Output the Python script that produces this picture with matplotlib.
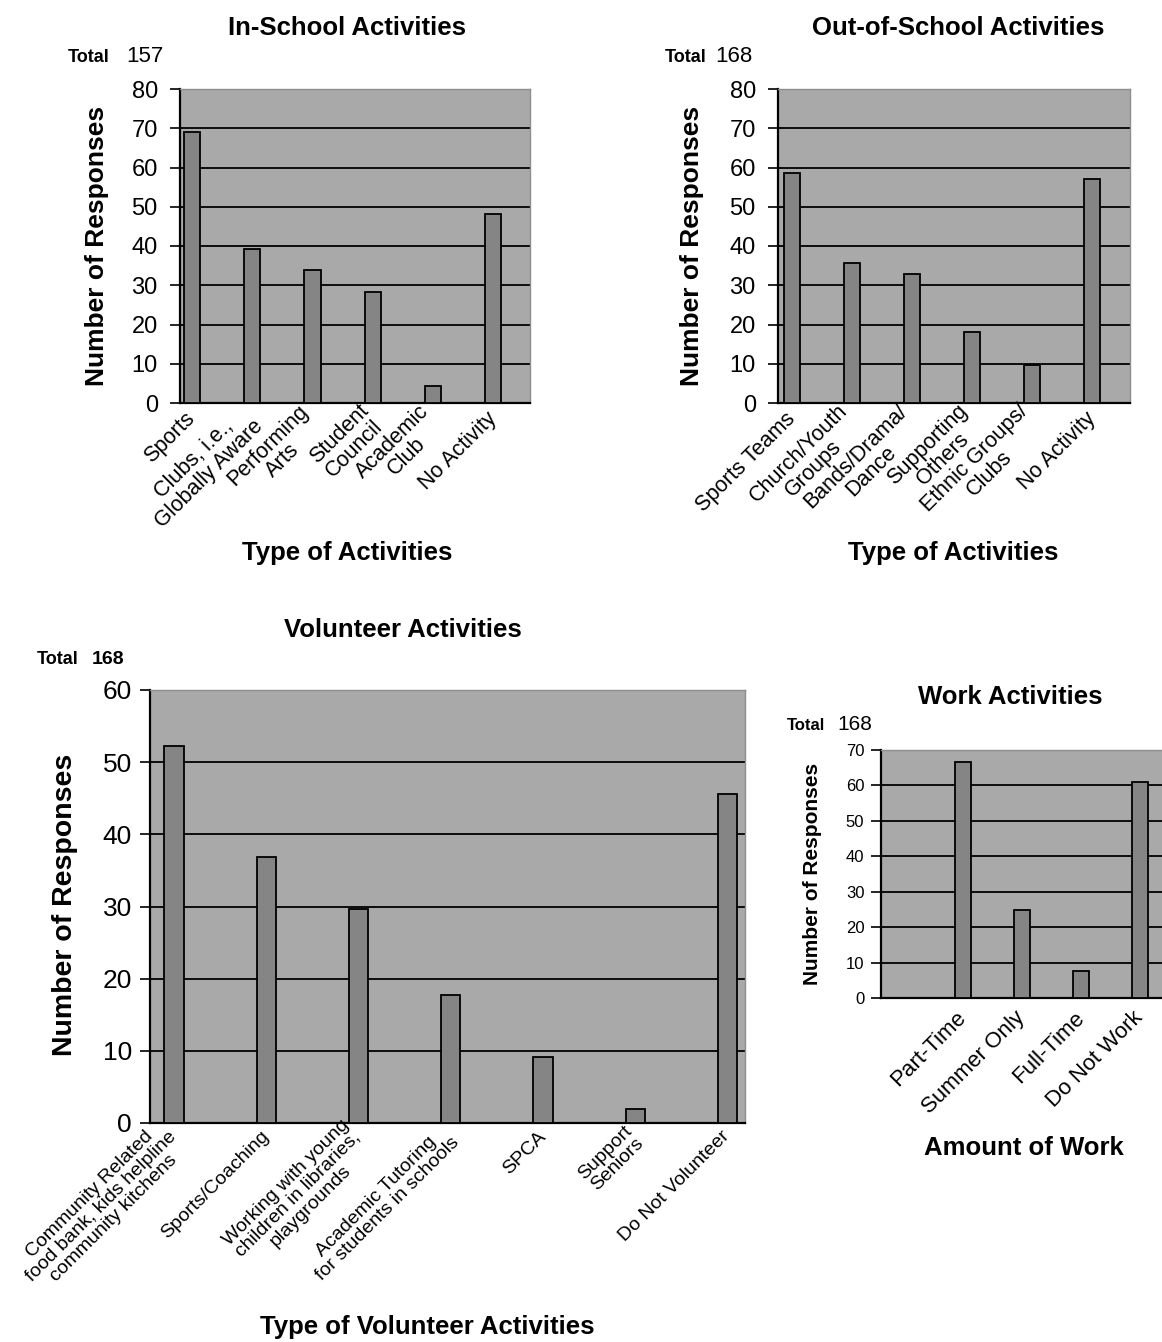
import matplotlib
matplotlib.use("Agg")
import matplotlib.pyplot as plt
import numpy as np

plt.rcParams['font.family'] = ['Liberation Sans', 'DejaVu Sans']

# ---- data ----
in_school_labels = ["Sports", "Clubs, i.e.,\nGlobally Aware", "Performing\nArts",
                    "Student\nCouncil", "Academic\nClub", "No Activity"]
in_school_values = [69.0, 39.2, 33.8, 28.4, 4.4, 48.2]
in_school_total = 157

out_school_labels = ["Sports Teams", "Church/Youth\nGroups", "Bands/Drama/\nDance",
                     "Supporting\nOthers", "Ethnic Groups/\nClubs", "No Activity"]
out_school_values = [58.7, 35.6, 32.9, 18.1, 9.6, 57.0]
out_school_total = 168

volunteer_labels = ["Community Related\nfood bank, kids helpline\ncommunity kitchens",
                    "Sports/Coaching",
                    "Working with young\nchildren in libraries,\nplaygrounds",
                    "Academic Tutoring\nfor students in schools",
                    "SPCA", "Support\nSeniors", "Do Not Volunteer"]
volunteer_values = [52.3, 36.8, 29.7, 17.8, 9.1, 1.9, 45.6]
volunteer_total = 168

work_labels = ["Part-Time", "Summer Only", "Full-Time", "Do Not Work"]
work_values = [66.5, 24.7, 7.5, 60.9]
work_total = 168

W, H = 1162, 1342
PLOT_BG = '#a9a9a9'
BAR_COLOR = '#858585'


def box(left, top, right, bottom):
    """pixel box -> figure fraction rect"""
    return [left / W, 1 - bottom / H, (right - left) / W, (bottom - top) / H]


def fx(x):
    return x / W


def fy(y):
    return 1 - y / H


def draw_panel(ax, labels, values, ymax, xlim, width, ytick_fs, ypad, xtick_fs, xpad):
    x = np.arange(len(values))
    ax.set_facecolor(PLOT_BG)
    ax.bar(x, values, width=width, color=BAR_COLOR, edgecolor='black',
           linewidth=1.3, zorder=3)
    ax.set_xlim(*xlim)
    ax.set_ylim(0, ymax)
    ax.set_yticks(np.arange(0, ymax + 1, 10))
    ax.yaxis.grid(True, color='black', linewidth=1.3, zorder=1)
    ax.set_axisbelow(True)
    gl = ax.yaxis.get_gridlines()
    gl[0].set_visible(False)
    gl[-1].set_visible(False)
    ax.set_xticks(x)
    ax.set_xticklabels(labels, rotation=45, ha='right', va='center',
                       rotation_mode='anchor', multialignment='center',
                       fontsize=xtick_fs, linespacing=1.0)
    ax.tick_params(axis='x', length=0, pad=xpad)
    ax.tick_params(axis='y', length=7, width=1.2, direction='out',
                   labelsize=ytick_fs, pad=ypad)
    for s in ('left', 'bottom'):
        ax.spines[s].set_color('black')
        ax.spines[s].set_linewidth(1.6)
    for s in ('top', 'right'):
        ax.spines[s].set_color('#8e8e8e')
        ax.spines[s].set_linewidth(1.0)


fig = plt.figure(figsize=(W / 100, H / 100), dpi=100)

# ---- In-School ----
ax1 = fig.add_axes(box(180, 89, 530, 403))
draw_panel(ax1, in_school_labels, in_school_values, 80, (-0.2, 5.61), 0.27, 17, 9, 15.5, 9)
ax1.text(0.477, 1.194, "In-School Activities", transform=ax1.transAxes,
         ha='center', va='center', fontsize=18.5, fontweight='bold')
ax1.set_ylabel("Number of Responses", fontsize=19, fontweight='bold',
               ha='center', va='center')
ax1.yaxis.set_label_coords(-0.237, 0.5)
ax1.set_xlabel("Type of Activities", fontsize=18.5, fontweight='bold', va='center')
ax1.xaxis.set_label_coords(0.477, -0.478)
fig.text(fx(68), fy(57), "Total", fontsize=13, fontweight='bold', va='center')
fig.text(fx(126), fy(57), str(in_school_total), fontsize=16, va='center')

# ---- Out-of-School ----
ax2 = fig.add_axes(box(778, 89, 1130, 403))
draw_panel(ax2, out_school_labels, out_school_values, 80, (-0.233, 5.63), 0.27, 17, 9, 15.5, 9)
ax2.text(0.511, 1.194, "Out-of-School Activities", transform=ax2.transAxes,
         ha='center', va='center', fontsize=18.5, fontweight='bold')
ax2.set_ylabel("Number of Responses", fontsize=19, fontweight='bold',
               ha='center', va='center')
ax2.yaxis.set_label_coords(-0.244, 0.5)
ax2.set_xlabel("Type of Activities", fontsize=18.5, fontweight='bold', va='center')
ax2.xaxis.set_label_coords(0.497, -0.478)
fig.text(fx(665), fy(57), "Total", fontsize=13, fontweight='bold', va='center')
fig.text(fx(715), fy(57), str(out_school_total), fontsize=16, va='center')

# ---- Volunteer ----
ax3 = fig.add_axes(box(150, 690, 745, 1123))
draw_panel(ax3, volunteer_labels, volunteer_values, 60, (-0.26, 6.19), 0.21, 19, 6, 14, 8)
ax3.text(0.425, 1.139, "Volunteer Activities", transform=ax3.transAxes,
         ha='center', va='center', fontsize=18.5, fontweight='bold')
ax3.set_ylabel("Number of Responses", fontsize=20.5, fontweight='bold',
               ha='center', va='center')
ax3.yaxis.set_label_coords(-0.143, 0.503)
ax3.set_xlabel("Type of Volunteer Activities", fontsize=18.5, fontweight='bold', va='center')
ax3.xaxis.set_label_coords(0.466, -0.471)
fig.text(fx(37), fy(660), "Total", fontsize=13, fontweight='bold', va='center')
fig.text(fx(92), fy(660), str(volunteer_total), fontsize=14, fontweight='bold', va='center')

# ---- Work ----
ax4 = fig.add_axes(box(881, 750, 1166, 998))
draw_panel(ax4, work_labels, work_values, 70, (-1.39, 3.44), 0.26, 12, 5, 16, 12)
ax4.text(0.454, 1.214, "Work Activities", transform=ax4.transAxes,
         ha='center', va='center', fontsize=18.5, fontweight='bold')
ax4.set_ylabel("Number of Responses", fontsize=15, fontweight='bold',
               ha='center', va='center')
ax4.yaxis.set_label_coords(-0.239, 0.5)
ax4.set_xlabel("Amount of Work", fontsize=18.5, fontweight='bold', va='center')
ax4.xaxis.set_label_coords(0.5, -0.605)
fig.text(fx(787), fy(725), "Total", fontsize=12, fontweight='bold', va='center')
fig.text(fx(837), fy(725), str(work_total), fontsize=15, va='center')

fig.savefig("out.png", dpi=100, facecolor='white')
